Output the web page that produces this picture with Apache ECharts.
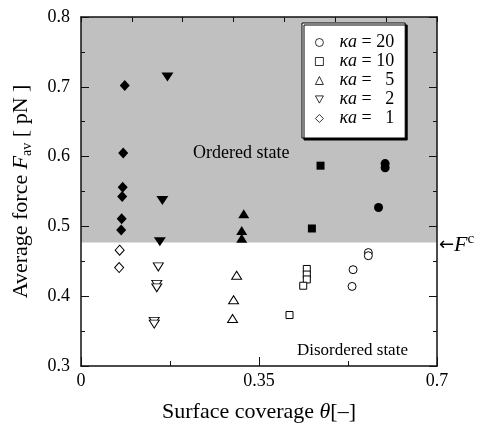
<!DOCTYPE html>
<html>
<head>
<meta charset="utf-8">
<script src="https://cdn.jsdelivr.net/npm/echarts@6/dist/echarts.min.js"></script>
<style>
  html, body { margin: 0; padding: 0; background: #fff; }
  #chart { width: 486px; height: 428px; }
</style>
</head>
<body>
<div id="chart"></div>
<script>
// kappa*a values for the legend
var kaLabels = ['20', '10', '5', '2', '1'];

// ka = 20 (circles)
var ka20Open = [[0.565, 0.4625], [0.565, 0.458], [0.535, 0.438], [0.533, 0.414]];
var ka20Filled = [[0.598, 0.590], [0.598, 0.584], [0.585, 0.527]];
// ka = 10 (squares)
var ka10Open = [[0.444, 0.439], [0.444, 0.431], [0.444, 0.424], [0.437, 0.415], [0.410, 0.373]];
var ka10Filled = [[0.471, 0.587], [0.454, 0.497]];
// ka = 5 (triangles up)
var ka5Open = [[0.306, 0.430], [0.300, 0.395], [0.298, 0.368]];
var ka5Filled = [[0.320, 0.518], [0.316, 0.494], [0.316, 0.483]];
// ka = 2 (triangles down)
var ka2Open = [[0.152, 0.442], [0.149, 0.417], [0.149, 0.412], [0.144, 0.364], [0.144, 0.360]];
var ka2Filled = [[0.170, 0.714], [0.160, 0.537], [0.155, 0.478]];
// ka = 1 (diamonds)
var ka1Open = [[0.076, 0.466], [0.075, 0.441]];
var ka1Filled = [[0.086, 0.702], [0.083, 0.605], [0.082, 0.556], [0.081, 0.543], [0.080, 0.511], [0.079, 0.495]];

var criticalForce = 0.477;

var serif = 'Liberation Serif';
var downTri = 'path://M0,0 L10,0 L5,9 Z';

function openSeries(name, symbol, size, data) {
  return {
    name: name, type: 'scatter', symbol: symbol, symbolSize: size, data: data, z: 3,
    itemStyle: { color: '#fff', borderColor: '#000', borderWidth: 1, opacity: 1 }
  };
}
function filledSeries(name, symbol, size, data) {
  return {
    name: name, type: 'scatter', symbol: symbol, symbolSize: size, data: data, z: 3,
    itemStyle: { color: '#000', borderColor: '#000', borderWidth: 0, opacity: 1 }
  };
}

var names = kaLabels.map(function (k) { return 'ka' + k; });

var myChart = echarts.init(document.getElementById('chart'));

var option = {
  animation: false,
  backgroundColor: '#fff',
  textStyle: { fontFamily: serif, color: '#000' },
  grid: { left: 81, top: 17, right: 49, bottom: 56 },
  legend: {
    data: names,
    orient: 'vertical',
    left: 302,
    top: 23,
    padding: [10, 11, 10, 13],
    itemWidth: 8,
    itemHeight: 8,
    itemGap: 0,
    backgroundColor: '#fff',
    borderColor: '#000',
    borderWidth: 1,
    borderRadius: 0,
    shadowColor: '#000',
    shadowBlur: 0,
    shadowOffsetX: 2,
    shadowOffsetY: 2,
    selectedMode: false,
    itemStyle: { borderWidth: 0.8 },
    formatter: function (name) {
      return '{k|κa}{e| = }{n|' + name.slice(2) + '}';
    },
    textStyle: {
      fontFamily: serif,
      fontSize: 18,
      color: '#000',
      lineHeight: 19,
      rich: {
        k: { fontFamily: serif, fontSize: 18, fontStyle: 'italic', padding: [0, 0, 0, 11], lineHeight: 19 },
        e: { fontFamily: serif, fontSize: 18, lineHeight: 19 },
        n: { fontFamily: serif, fontSize: 18, width: 18, align: 'right', lineHeight: 19 }
      }
    }
  },
  xAxis: [
    {
      type: 'value', position: 'bottom', min: 0, max: 0.7, interval: 0.35, z: 10,
      name: 'Surface coverage {i|θ}[–]',
      nameLocation: 'middle', nameGap: 35,
      nameTextStyle: {
        fontFamily: serif, fontSize: 22, color: '#000',
        rich: { i: { fontFamily: serif, fontSize: 22, fontStyle: 'italic' } }
      },
      axisLine: { show: true, onZero: false, lineStyle: { color: '#111', width: 1.5 } },
      axisTick: { inside: true, length: 9, lineStyle: { color: '#111' } },
      minorTick: { show: true, splitNumber: 2, length: 5, lineStyle: { color: '#111' } },
      splitLine: { show: false },
      axisLabel: {
        fontFamily: serif, fontSize: 18, color: '#000', margin: 6,
        formatter: function (v) { return v === 0 ? '0' : String(+v.toFixed(2)); }
      }
    },
    {
      type: 'value', position: 'top', min: 0, max: 0.7, interval: 0.1, z: 10,
      axisLine: { show: true, onZero: false, lineStyle: { color: '#111', width: 1.5 } },
      axisTick: { inside: true, length: 5, lineStyle: { color: '#111' } },
      axisLabel: { show: false },
      splitLine: { show: false }
    }
  ],
  yAxis: [
    {
      type: 'value', position: 'left', min: 0.3, max: 0.8, interval: 0.1, z: 10,
      name: '{n|Average force }{i|F}{s|av}{n| [ pN ]}',
      nameLocation: 'middle', nameGap: 47, nameRotate: 90,
      nameTextStyle: {
        fontFamily: serif, fontSize: 22, color: '#000',
        rich: {
          n: { fontFamily: serif, fontSize: 22, lineHeight: 26 },
          i: { fontFamily: serif, fontSize: 22, fontStyle: 'italic', lineHeight: 26 },
          s: { fontFamily: serif, fontSize: 14, lineHeight: 26, verticalAlign: 'bottom', padding: [7, 0, 0, 0] }
        }
      },
      axisLine: { show: true, onZero: false, lineStyle: { color: '#111', width: 1.5 } },
      axisTick: { inside: true, length: 8, lineStyle: { color: '#111' } },
      minorTick: { show: true, splitNumber: 2, length: 4, lineStyle: { color: '#111' } },
      splitLine: { show: false },
      axisLabel: {
        fontFamily: serif, fontSize: 18, color: '#000', margin: 11,
        formatter: function (v) { return v.toFixed(1); }
      }
    },
    {
      type: 'value', position: 'right', min: 0.3, max: 0.8, interval: 0.1, z: 10,
      axisLine: { show: true, onZero: false, lineStyle: { color: '#111', width: 1.5 } },
      axisTick: { inside: true, length: 8, lineStyle: { color: '#111' } },
      minorTick: { show: true, splitNumber: 2, length: 4, lineStyle: { color: '#111' } },
      axisLabel: { show: false },
      splitLine: { show: false }
    }
  ],
  graphic: [
    {
      type: 'text', left: 193, top: 144, z: 10,
      style: { text: 'Ordered state', font: '18px "Liberation Serif"', fill: '#000' }
    },
    {
      type: 'text', left: 297, top: 342, z: 10,
      style: { text: 'Disordered state', font: '17px "Liberation Serif"', fill: '#000' }
    },
    {
      type: 'text', left: 439, top: 232, z: 10,
      style: {
        text: '{a|←}{i|F}{s|c}',
        rich: {
          a: { font: '18px "DejaVu Sans"', fill: '#000', lineHeight: 26 },
          i: { font: 'italic 22px "Liberation Serif"', fill: '#000', lineHeight: 26 },
          s: { font: '15px "Liberation Serif"', fill: '#000', lineHeight: 26, verticalAlign: 'top' }
        }
      }
    }
  ],
  series: [
    {
      type: 'scatter', data: [], z: 0, silent: true,
      markArea: {
        silent: true,
        itemStyle: { color: '#c0c0c0' },
        data: [[{ yAxis: criticalForce }, { yAxis: 0.8 }]]
      }
    },
    openSeries(names[0], 'circle', 8, ka20Open),
    openSeries(names[1], 'rect', 7, ka10Open),
    openSeries(names[2], 'triangle', [10, 8], ka5Open),
    openSeries(names[3], downTri, [10, 8], ka2Open),
    openSeries(names[4], 'diamond', [9, 10], ka1Open),
    filledSeries(names[0], 'circle', 9, ka20Filled),
    filledSeries(names[1], 'rect', 8, ka10Filled),
    filledSeries(names[2], 'triangle', [11, 9], ka5Filled),
    filledSeries(names[3], downTri, [12, 9], ka2Filled),
    filledSeries(names[4], 'diamond', [10, 11], ka1Filled)
  ]
};

myChart.setOption(option);
window.addEventListener('resize', function () {
  myChart.resize();
});
</script>
</body>
</html>
